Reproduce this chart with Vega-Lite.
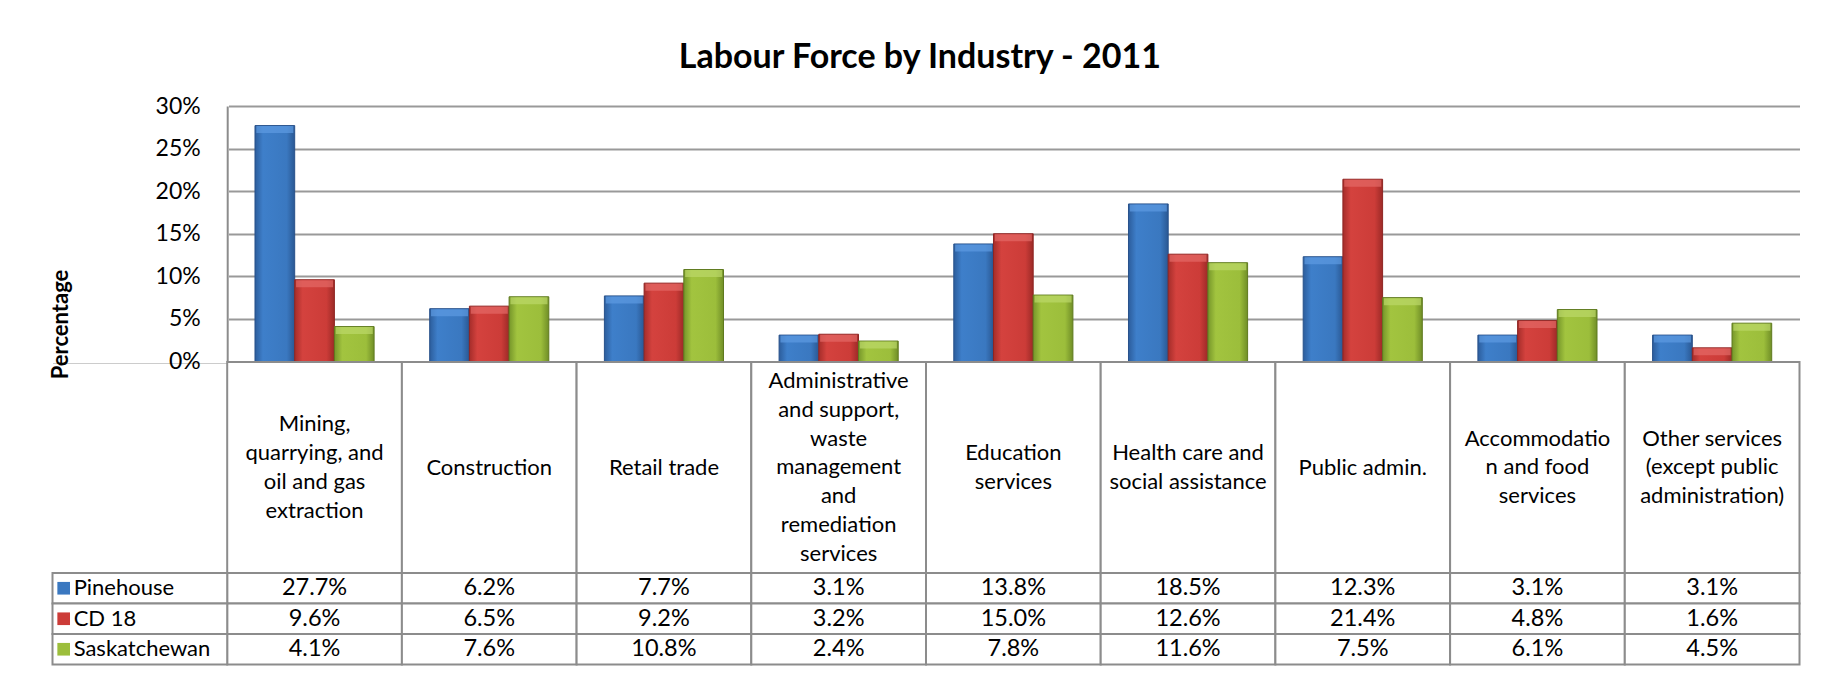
{
  "$schema": "https://vega.github.io/schema/vega-lite/v6.json",
  "background": "white",
  "padding": {"left": 48.5, "top": 41, "right": 35, "bottom": 8},
  "title": {"text": "Labour Force by Industry - 2011", "font": "Lato", "fontSize": 34, "fontWeight": "bold", "color": "#000000", "anchor": "middle", "dx": -5, "offset": 20},
  "config": {"view": {"stroke": null}, "font": "Lato"},
  "data": {"values": [
    {"industry": "Mining,\nquarrying, and\noil and gas\nextraction", "region": "Pinehouse", "value": 0.277},
    {"industry": "Mining,\nquarrying, and\noil and gas\nextraction", "region": "CD 18", "value": 0.096},
    {"industry": "Mining,\nquarrying, and\noil and gas\nextraction", "region": "Saskatchewan", "value": 0.041},
    {"industry": "Construction", "region": "Pinehouse", "value": 0.062},
    {"industry": "Construction", "region": "CD 18", "value": 0.065},
    {"industry": "Construction", "region": "Saskatchewan", "value": 0.076},
    {"industry": "Retail trade", "region": "Pinehouse", "value": 0.077},
    {"industry": "Retail trade", "region": "CD 18", "value": 0.092},
    {"industry": "Retail trade", "region": "Saskatchewan", "value": 0.108},
    {"industry": "Administrative\nand support,\nwaste\nmanagement\nand\nremediation\nservices", "region": "Pinehouse", "value": 0.031},
    {"industry": "Administrative\nand support,\nwaste\nmanagement\nand\nremediation\nservices", "region": "CD 18", "value": 0.032},
    {"industry": "Administrative\nand support,\nwaste\nmanagement\nand\nremediation\nservices", "region": "Saskatchewan", "value": 0.024},
    {"industry": "Education\nservices", "region": "Pinehouse", "value": 0.138},
    {"industry": "Education\nservices", "region": "CD 18", "value": 0.150},
    {"industry": "Education\nservices", "region": "Saskatchewan", "value": 0.078},
    {"industry": "Health care and\nsocial assistance", "region": "Pinehouse", "value": 0.185},
    {"industry": "Health care and\nsocial assistance", "region": "CD 18", "value": 0.126},
    {"industry": "Health care and\nsocial assistance", "region": "Saskatchewan", "value": 0.116},
    {"industry": "Public admin.", "region": "Pinehouse", "value": 0.123},
    {"industry": "Public admin.", "region": "CD 18", "value": 0.214},
    {"industry": "Public admin.", "region": "Saskatchewan", "value": 0.075},
    {"industry": "Accommodatio\nn and food\nservices", "region": "Pinehouse", "value": 0.031},
    {"industry": "Accommodatio\nn and food\nservices", "region": "CD 18", "value": 0.048},
    {"industry": "Accommodatio\nn and food\nservices", "region": "Saskatchewan", "value": 0.061},
    {"industry": "Other services\n(except public\nadministration)", "region": "Pinehouse", "value": 0.031},
    {"industry": "Other services\n(except public\nadministration)", "region": "CD 18", "value": 0.016},
    {"industry": "Other services\n(except public\nadministration)", "region": "Saskatchewan", "value": 0.045}
  ]},
  "spacing": 0,
  "bounds": "flush",
  "resolve": {"scale": {"x": "shared", "y": "independent", "color": "independent", "xOffset": "independent"}},
  "vconcat": [
    {
      "width": 1747,
      "height": 255.5,
      "layer": [
        {
          "layer": [
            {
              "transform": [{"filter": "datum.region === 'Pinehouse'"}],
              "mark": {"type": "bar", "stroke": "#28518a", "strokeWidth": 1, "fill": {"gradient": "linear", "x1": 0, "y1": 0, "x2": 1, "y2": 0, "stops": [{"offset": 0, "color": "#2C5D9C"}, {"offset": 0.2, "color": "#3E7FCA"}, {"offset": 0.8, "color": "#3A78C0"}, {"offset": 1, "color": "#2A5893"}]}},
              "encoding": {
                "x": {"field": "industry", "type": "nominal", "axis": null, "scale": {"domain": ["Legend", "Mining,\nquarrying, and\noil and gas\nextraction", "Construction", "Retail trade", "Administrative\nand support,\nwaste\nmanagement\nand\nremediation\nservices", "Education\nservices", "Health care and\nsocial assistance", "Public admin.", "Accommodatio\nn and food\nservices", "Other services\n(except public\nadministration)"], "paddingInner": 0, "paddingOuter": 0}},
                "xOffset": {"field": "region", "type": "nominal", "scale": {"domain": ["Pinehouse", "CD 18", "Saskatchewan"], "paddingInner": 0, "paddingOuter": 0.7}},
                "y": {"field": "value", "type": "quantitative", "scale": {"domain": [0, 0.3], "nice": false}, "axis": {"orient": "left", "grid": true, "values": [0, 0.05, 0.1, 0.15, 0.2, 0.25, 0.3], "gridColor": "#999999", "gridWidth": 2, "domain": false, "ticks": false, "labels": false, "title": null, "zindex": 0}}
              }
            },
            {
              "transform": [{"filter": "datum.region === 'CD 18'"}],
              "mark": {"type": "bar", "stroke": "#8e2523", "strokeWidth": 1, "fill": {"gradient": "linear", "x1": 0, "y1": 0, "x2": 1, "y2": 0, "stops": [{"offset": 0, "color": "#A52D2A"}, {"offset": 0.2, "color": "#D4423E"}, {"offset": 0.8, "color": "#CC3C38"}, {"offset": 1, "color": "#9C2A27"}]}},
              "encoding": {
                "x": {"field": "industry", "type": "nominal", "axis": null},
                "xOffset": {"field": "region", "type": "nominal"},
                "y": {"field": "value", "type": "quantitative", "axis": {"orient": "left", "grid": true, "values": [0, 0.05, 0.1, 0.15, 0.2, 0.25, 0.3], "gridColor": "#999999", "gridWidth": 2, "domain": false, "ticks": false, "labels": false, "title": null, "zindex": 0}}
              }
            },
            {
              "transform": [{"filter": "datum.region === 'Saskatchewan'"}],
              "mark": {"type": "bar", "stroke": "#5f7a1f", "strokeWidth": 1, "fill": {"gradient": "linear", "x1": 0, "y1": 0, "x2": 1, "y2": 0, "stops": [{"offset": 0, "color": "#76962A"}, {"offset": 0.2, "color": "#A2C43F"}, {"offset": 0.8, "color": "#9CBE3B"}, {"offset": 1, "color": "#708E27"}]}},
              "encoding": {
                "x": {"field": "industry", "type": "nominal", "axis": null},
                "xOffset": {"field": "region", "type": "nominal"},
                "y": {"field": "value", "type": "quantitative", "axis": {"orient": "left", "grid": true, "values": [0, 0.05, 0.1, 0.15, 0.2, 0.25, 0.3], "gridColor": "#999999", "gridWidth": 2, "domain": false, "ticks": false, "labels": false, "title": null, "zindex": 0}}
              }
            },
            {
              "mark": {"type": "tick", "thickness": 7, "size": 37, "yOffset": 4, "opacity": 0.7},
              "encoding": {
                "x": {"field": "industry", "type": "nominal", "axis": null},
                "xOffset": {"field": "region", "type": "nominal"},
                "y": {"field": "value", "type": "quantitative", "axis": {"orient": "left", "grid": true, "values": [0, 0.05, 0.1, 0.15, 0.2, 0.25, 0.3], "gridColor": "#999999", "gridWidth": 2, "domain": false, "ticks": false, "labels": false, "title": null, "zindex": 0}},
                "color": {"field": "region", "type": "nominal", "legend": null, "scale": {"domain": ["Pinehouse", "CD 18", "Saskatchewan"], "range": ["#5E9BE2", "#E46A66", "#BCD96A"]}}
              }
            }
          ]
        },
        {
          "mark": {"type": "rect", "fill": "white", "stroke": "white", "strokeWidth": 3},
          "encoding": {
            "x": {"datum": "Legend", "type": "nominal", "axis": null},
            "y": {"datum": 0, "type": "quantitative", "scale": {"domain": [0, 0.3], "nice": false}, "axis": {"orient": "left", "offset": -174.7, "values": [0, 0.05, 0.1, 0.15, 0.2, 0.25, 0.3], "format": ".0%", "grid": false, "ticks": false, "domain": true, "domainColor": "#8c8c8c", "domainWidth": 2, "labelFont": "Lato", "labelFontSize": 23, "labelColor": "#000000", "labelPadding": 27, "title": "Percentage", "titleFont": "Lato", "titleFontSize": 22, "titleFontWeight": "bold", "titleColor": "#000000", "titleX": -160, "titleY": 218, "titleAngle": -90, "titleAlign": "center", "titleBaseline": "alphabetic", "zindex": 1}},
            "y2": {"datum": 0.3}
          }
        }
      ],
      "resolve": {"scale": {"y": "independent"}, "axis": {"y": "independent"}}
    },
    {
      "width": 1747,
      "height": 211,
      "transform": [{"filter": "datum.region === 'Pinehouse'"}],
      "layer": [
        {
          "mark": {"type": "bar", "fill": "white", "stroke": "#8c8c8c", "strokeWidth": 2},
          "encoding": {"x": {"field": "industry", "type": "nominal", "axis": null}}
        },
        {
          "mark": {"type": "text", "font": "Lato", "fontSize": 22, "lineBreak": "\n", "lineHeight": 28.7, "align": "center", "baseline": "middle", "color": "#000000", "dy": {"expr": "-(length(split(datum.industry, '\\n')) - 1) * 14.35"}},
          "encoding": {"x": {"field": "industry", "type": "nominal", "axis": null}, "text": {"field": "industry"}}
        }
      ]
    },
    {
      "width": 1747,
      "height": 91.5,
      "layer": [
        {
          "mark": {"type": "rect", "fill": "white", "stroke": "#8c8c8c", "strokeWidth": 2},
          "encoding": {
            "x": {"field": "industry", "type": "nominal", "axis": null},
            "y": {"field": "region", "type": "nominal", "axis": null, "scale": {"domain": ["Pinehouse", "CD 18", "Saskatchewan"], "paddingInner": 0, "paddingOuter": 0}}
          }
        },
        {
          "transform": [{"filter": "datum.industry === 'Construction'"}],
          "mark": {"type": "rect", "fill": "white", "stroke": "#8c8c8c", "strokeWidth": 2},
          "encoding": {
            "x": {"datum": "Legend", "type": "nominal", "axis": null},
            "y": {"field": "region", "type": "nominal", "axis": null}
          }
        },
        {
          "mark": {"type": "text", "font": "Lato", "fontSize": 23.5, "align": "center", "baseline": "middle", "color": "#000000"},
          "encoding": {
            "x": {"field": "industry", "type": "nominal", "axis": null},
            "y": {"field": "region", "type": "nominal", "axis": null},
            "text": {"field": "value", "type": "quantitative", "format": ".1%"}
          }
        },
        {
          "transform": [{"filter": "datum.industry === 'Construction'"}],
          "mark": {"type": "point", "shape": "square", "filled": true, "size": 160, "opacity": 1, "strokeWidth": 0},
          "encoding": {
            "x": {"datum": "Legend", "type": "nominal", "axis": null, "bandPosition": 0.064},
            "y": {"field": "region", "type": "nominal", "axis": null},
            "color": {"field": "region", "type": "nominal", "legend": null, "scale": {"domain": ["Pinehouse", "CD 18", "Saskatchewan"], "range": ["#3A78C0", "#CC3C38", "#9CBE3B"]}}
          }
        },
        {
          "transform": [{"filter": "datum.industry === 'Construction'"}],
          "mark": {"type": "text", "font": "Lato", "fontSize": 22, "align": "left", "baseline": "middle", "color": "#000000"},
          "encoding": {
            "x": {"datum": "Legend", "type": "nominal", "axis": null, "bandPosition": 0.121},
            "y": {"field": "region", "type": "nominal", "axis": null},
            "text": {"field": "region"}
          }
        }
      ]
    }
  ]
}
